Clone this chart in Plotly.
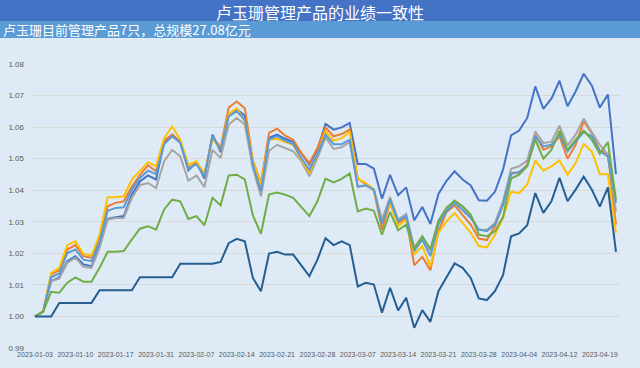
import plotly.graph_objects as go

dates = [
    "2023-01-03", "2023-01-04", "2023-01-05", "2023-01-06", "2023-01-09", "2023-01-10",
    "2023-01-11", "2023-01-12", "2023-01-13", "2023-01-16", "2023-01-17", "2023-01-18",
    "2023-01-19", "2023-01-20", "2023-01-30", "2023-01-31", "2023-02-01", "2023-02-02",
    "2023-02-03", "2023-02-06", "2023-02-07", "2023-02-08", "2023-02-09", "2023-02-10",
    "2023-02-13", "2023-02-14", "2023-02-15", "2023-02-16", "2023-02-17", "2023-02-20",
    "2023-02-21", "2023-02-22", "2023-02-23", "2023-02-24", "2023-02-27", "2023-02-28",
    "2023-03-01", "2023-03-02", "2023-03-03", "2023-03-06", "2023-03-07", "2023-03-08",
    "2023-03-09", "2023-03-10", "2023-03-13", "2023-03-14", "2023-03-15", "2023-03-16",
    "2023-03-17", "2023-03-20", "2023-03-21", "2023-03-22", "2023-03-23", "2023-03-24",
    "2023-03-27", "2023-03-28", "2023-03-29", "2023-03-30", "2023-03-31", "2023-04-03",
    "2023-04-04", "2023-04-06", "2023-04-07", "2023-04-10", "2023-04-11", "2023-04-12",
    "2023-04-13", "2023-04-14", "2023-04-17", "2023-04-18", "2023-04-19", "2023-04-20",
    "2023-04-21",
]

fund_1 = [1.0000, 1.0015, 1.0112, 1.0124, 1.0175, 1.0191, 1.0165, 1.0159, 1.0223, 1.0309,
          1.0314, 1.0318, 1.0386, 1.0428, 1.0447, 1.0434, 1.0553, 1.0576, 1.0553, 1.0463,
          1.0489, 1.0437, 1.0576, 1.0521, 1.0641, 1.0657, 1.0636, 1.0476, 1.0397, 1.0566,
          1.0576, 1.0563, 1.0553, 1.0515, 1.0481, 1.0528, 1.0610, 1.0592, 1.0599, 1.0613,
          1.0483, 1.0483, 1.0468, 1.0373, 1.0449, 1.0384, 1.0409, 1.0305, 1.0347, 1.0293,
          1.0388, 1.0430, 1.0460, 1.0434, 1.0415, 1.0368, 1.0367, 1.0395, 1.0465, 1.0574,
          1.0589, 1.0629, 1.0729, 1.0658, 1.0690, 1.0747, 1.0666, 1.0713, 1.0769, 1.0732,
          1.0662, 1.0703, 1.0451]

fund_2 = [1.0000, 1.0015, 1.0133, 1.0146, 1.0212, 1.0226, 1.0191, 1.0186, 1.0249, 1.0349,
          1.0360, 1.0365, 1.0412, 1.0449, 1.0479, 1.0460, 1.0557, 1.0576, 1.0553, 1.0470,
          1.0488, 1.0451, 1.0571, 1.0534, 1.0662, 1.0681, 1.0660, 1.0494, 1.0423, 1.0582,
          1.0595, 1.0573, 1.0560, 1.0518, 1.0486, 1.0534, 1.0599, 1.0571, 1.0578, 1.0592,
          1.0437, 1.0418, 1.0399, 1.0275, 1.0360, 1.0296, 1.0312, 1.0162, 1.0189, 1.0146,
          1.0270, 1.0331, 1.0352, 1.0321, 1.0291, 1.0247, 1.0242, 1.0286, 1.0354, 1.0455,
          1.0455, 1.0481, 1.0576, 1.0528, 1.0539, 1.0571, 1.0500, 1.0544, 1.0618, 1.0581,
          1.0525, 1.0515, 1.0291]

fund_3 = [1.0000, 1.0015, 1.0112, 1.0120, 1.0170, 1.0186, 1.0157, 1.0154, 1.0217, 1.0307,
          1.0312, 1.0312, 1.0376, 1.0416, 1.0423, 1.0407, 1.0492, 1.0528, 1.0507, 1.0430,
          1.0447, 1.0410, 1.0528, 1.0502, 1.0608, 1.0629, 1.0608, 1.0470, 1.0381, 1.0525,
          1.0544, 1.0534, 1.0523, 1.0492, 1.0444, 1.0502, 1.0568, 1.0531, 1.0536, 1.0553,
          1.0410, 1.0415, 1.0402, 1.0307, 1.0378, 1.0307, 1.0325, 1.0219, 1.0254, 1.0207,
          1.0304, 1.0344, 1.0365, 1.0346, 1.0318, 1.0275, 1.0275, 1.0296, 1.0365, 1.0468,
          1.0476, 1.0494, 1.0586, 1.0550, 1.0553, 1.0605, 1.0542, 1.0576, 1.0627, 1.0584,
          1.0544, 1.0513, 1.0333]

fund_4 = [1.0000, 1.0015, 1.0138, 1.0154, 1.0226, 1.0238, 1.0198, 1.0193, 1.0259, 1.0378,
          1.0378, 1.0381, 1.0434, 1.0460, 1.0489, 1.0476, 1.0565, 1.0602, 1.0560, 1.0481,
          1.0492, 1.0451, 1.0565, 1.0528, 1.0641, 1.0660, 1.0618, 1.0492, 1.0418, 1.0560,
          1.0563, 1.0553, 1.0544, 1.0497, 1.0455, 1.0513, 1.0586, 1.0557, 1.0565, 1.0584,
          1.0437, 1.0423, 1.0402, 1.0296, 1.0360, 1.0286, 1.0307, 1.0196, 1.0223, 1.0159,
          1.0265, 1.0302, 1.0328, 1.0296, 1.0265, 1.0223, 1.0219, 1.0259, 1.0312, 1.0395,
          1.0391, 1.0418, 1.0494, 1.0462, 1.0476, 1.0494, 1.0449, 1.0486, 1.0546, 1.0523,
          1.0451, 1.0451, 1.0265]

fund_5 = [1.0000, 1.0015, 1.0124, 1.0136, 1.0201, 1.0212, 1.0180, 1.0175, 1.0238, 1.0335,
          1.0344, 1.0346, 1.0402, 1.0439, 1.0462, 1.0451, 1.0546, 1.0571, 1.0550, 1.0468,
          1.0483, 1.0444, 1.0571, 1.0528, 1.0634, 1.0650, 1.0623, 1.0481, 1.0397, 1.0561,
          1.0571, 1.0557, 1.0546, 1.0502, 1.0465, 1.0513, 1.0576, 1.0546, 1.0546, 1.0560,
          1.0412, 1.0416, 1.0402, 1.0293, 1.0370, 1.0302, 1.0318, 1.0207, 1.0244, 1.0191,
          1.0291, 1.0333, 1.0360, 1.0335, 1.0312, 1.0275, 1.0270, 1.0291, 1.0354, 1.0451,
          1.0458, 1.0476, 1.0571, 1.0539, 1.0544, 1.0576, 1.0523, 1.0555, 1.0584, 1.0571,
          1.0523, 1.0507, 1.0360]

fund_6 = [1.0000, 1.0015, 1.0078, 1.0075, 1.0107, 1.0124, 1.0110, 1.0110, 1.0154, 1.0205,
          1.0205, 1.0207, 1.0244, 1.0278, 1.0286, 1.0275, 1.0339, 1.0370, 1.0365, 1.0309,
          1.0318, 1.0289, 1.0376, 1.0352, 1.0447, 1.0449, 1.0434, 1.0320, 1.0262, 1.0386,
          1.0393, 1.0386, 1.0376, 1.0347, 1.0318, 1.0365, 1.0437, 1.0425, 1.0436, 1.0453,
          1.0333, 1.0342, 1.0335, 1.0259, 1.0331, 1.0273, 1.0291, 1.0212, 1.0254, 1.0214,
          1.0302, 1.0344, 1.0367, 1.0349, 1.0323, 1.0259, 1.0254, 1.0270, 1.0315, 1.0437,
          1.0449, 1.0476, 1.0560, 1.0500, 1.0528, 1.0589, 1.0528, 1.0560, 1.0589, 1.0560,
          1.0515, 1.0553, 1.0370]

fund_7 = [1.0000, 1.0000, 1.0000, 1.0043, 1.0043, 1.0043, 1.0043, 1.0043, 1.0083, 1.0083,
          1.0083, 1.0083, 1.0083, 1.0124, 1.0124, 1.0124, 1.0124, 1.0124, 1.0167, 1.0167,
          1.0167, 1.0167, 1.0167, 1.0173, 1.0232, 1.0246, 1.0238, 1.0122, 1.0080, 1.0199,
          1.0205, 1.0196, 1.0196, 1.0162, 1.0128, 1.0180, 1.0248, 1.0226, 1.0238, 1.0226,
          1.0095, 1.0107, 1.0101, 1.0012, 1.0091, 1.0019, 1.0059, 0.9964, 1.0020, 0.9983,
          1.0080, 1.0124, 1.0168, 1.0154, 1.0122, 1.0057, 1.0052, 1.0080, 1.0131, 1.0254,
          1.0263, 1.0289, 1.0391, 1.0328, 1.0365, 1.0439, 1.0365, 1.0402, 1.0443, 1.0402,
          1.0348, 1.0409, 1.0205]

series = [
    ("产品1", fund_1, "#4472C4"),
    ("产品2", fund_2, "#ED7D31"),
    ("产品3", fund_3, "#A5A5A5"),
    ("产品4", fund_4, "#FFC000"),
    ("产品5", fund_5, "#5B9BD5"),
    ("产品6", fund_6, "#70AD47"),
    ("产品7", fund_7, "#255E91"),
]

title_text = "卢玉珊管理产品的业绩一致性"
subtitle_text = "卢玉珊目前管理产品7只，总规模27.08亿元"
y_ticks = [0.99, 1.00, 1.01, 1.02, 1.03, 1.04, 1.05, 1.06, 1.07, 1.08]
x_tick_labels = dates[::5]

fig = go.Figure()
for name, vals, color in series:
    fig.add_trace(go.Scatter(x=dates, y=vals, mode="lines", name=name,
                             line=dict(color=color, width=2)))

W, H = 640, 368
ml, mr, mt, mb = 31, 20, 64, 20
pw, ph = W - ml - mr, H - mt - mb


def px_to_paper_x(x):
    return (x - ml) / pw


def px_to_paper_y(y):
    return (H - mb - y) / ph


bg = "#DEEBF7"
fig.update_layout(
    width=W, height=H,
    margin=dict(l=ml, r=mr, t=mt, b=mb, pad=0, autoexpand=False),
    paper_bgcolor=bg, plot_bgcolor=bg,
    showlegend=False,
    font=dict(family="Liberation Sans, Arial, sans-serif", size=8, color="#595959"),
    shapes=[
        dict(type="rect", xref="paper", yref="paper",
             x0=px_to_paper_x(0), x1=px_to_paper_x(W), y0=px_to_paper_y(21), y1=px_to_paper_y(0),
             fillcolor="#4472C4", line=dict(width=0), layer="below"),
        dict(type="rect", xref="paper", yref="paper",
             x0=px_to_paper_x(0), x1=px_to_paper_x(W), y0=px_to_paper_y(38), y1=px_to_paper_y(21),
             fillcolor="#5B9BD5", line=dict(width=0), layer="below"),
    ],
    annotations=[
        dict(text=title_text, xref="paper", yref="paper",
             x=px_to_paper_x(320), y=px_to_paper_y(12), xanchor="center", yanchor="middle",
             showarrow=False, font=dict(family="Noto Sans CJK SC", size=16, color="white")),
        dict(text=subtitle_text, xref="paper", yref="paper",
             x=px_to_paper_x(1), y=px_to_paper_y(30), xanchor="left", yanchor="middle",
             showarrow=False, font=dict(family="Noto Sans CJK SC", size=13, color="white")),
    ],
)
fig.update_xaxes(type="category", range=[-0.5, len(dates) - 0.5], automargin=False,
                 tickmode="array", tickvals=x_tick_labels, ticktext=x_tick_labels,
                 showgrid=False, showline=False, zeroline=False, tickangle=0,
                 ticks="", ticklabelstandoff=1, tickfont=dict(size=7, color="#595959"))
fig.update_yaxes(range=[0.99, 1.08], tickmode="array", tickvals=y_ticks, automargin=False,
                 tickformat=".2f", showgrid=True, gridcolor="#D9D9D9", gridwidth=1,
                 zeroline=False, showline=False, ticks="", ticklabelstandoff=6,
                 tickfont=dict(size=8, color="#595959"))

fig.write_html("out.html", config={"displayModeBar": False},
               post_script="document.body.style.margin='0';document.body.style.overflow='hidden';")
